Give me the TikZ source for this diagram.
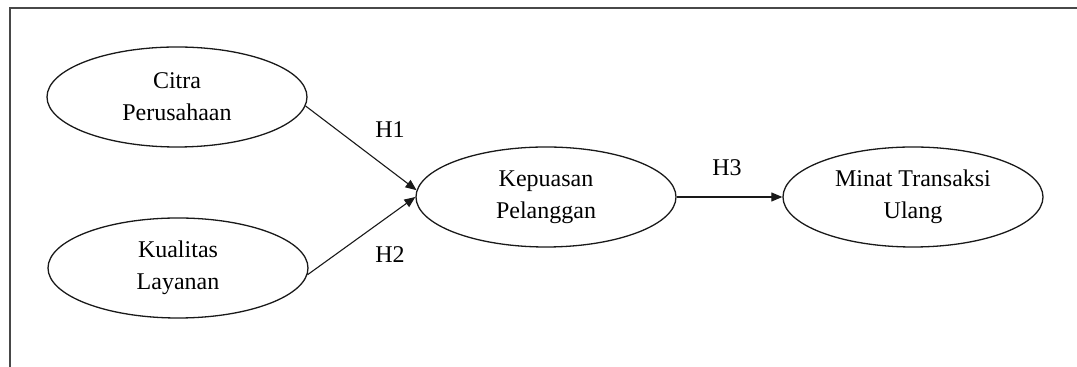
\documentclass[tikz,border=0pt]{standalone}
\usepackage{fontspec}
\setmainfont{Liberation Serif}
\usepackage{tikz}
\usetikzlibrary{arrows.meta,shapes.geometric}
\usepackage{xcolor}
\definecolor{framegray}{RGB}{72,72,72}
\definecolor{inkdark}{RGB}{25,25,25}

\begin{document}
\begin{tikzpicture}[x=0.5pt,y=-0.5pt,
  construct/.style={draw=inkdark,ellipse,line width=0.65pt,minimum width=130pt,minimum height=50pt,inner sep=0pt,align=center,font=\fontsize{12}{16}\selectfont},
  hypo/.style={draw=inkdark,-{Triangle[length=5.5pt,width=4.5pt]},line width=0.55pt},
  hlabel/.style={font=\fontsize{12}{14}\selectfont}]
\useasboundingbox (0,0) rectangle (1077,367);
\draw[framegray,line width=1pt] (1077,8.5) -- (9.5,8.5) -- (9.5,367);
\node[construct] (cp) at (177,97) {Citra\\Perusahaan};
\node[construct] (kl) at (178,268) {Kualitas\\Layanan};
\node[construct] (kp) at (546,197) {Kepuasan\\Pelanggan};
\node[construct] (mt) at (913,197) {Minat Transaksi\\Ulang};
\draw[hypo] (cp.-4.5) -- (kp.177);
\draw[hypo] (kl.-3) -- (kp.west);
\draw[hypo] (kp.east) -- (mt.west);
\node[hlabel] (h1) at (390,130) {H1};
\node[hlabel] (h2) at (390,255) {H2};
\node[hlabel] (h3) at (727,168) {H3};
\end{tikzpicture}
\end{document}
